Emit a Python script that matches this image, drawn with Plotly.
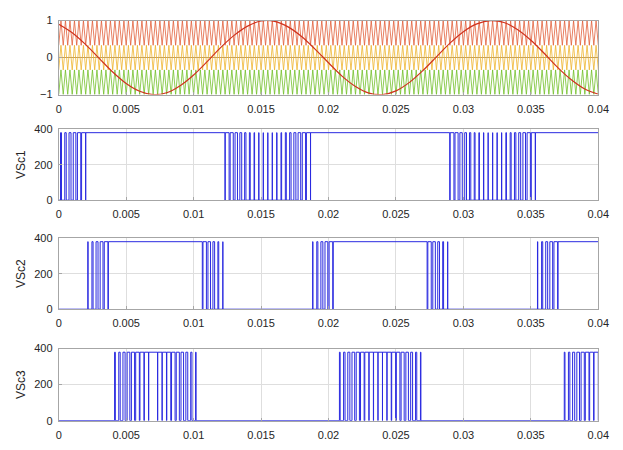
import numpy as np
import plotly.graph_objects as go
from plotly.subplots import make_subplots

# ---------------- data ----------------
# sinusoidal reference (modulating wave), sampled every 1 ms
ref_time_ms = list(range(0, 41))
ref_values = [0.90, 0.67, 0.35, -0.02, -0.39, -0.70, -0.91, -1.00, -0.95, -0.76,
              -0.47, -0.11, 0.27, 0.60, 0.85, 0.99, 0.98, 0.83, 0.57, 0.23,
              -0.14, -0.50, -0.78, -0.96, -1.00, -0.90, -0.67, -0.35, 0.02, 0.39,
              0.70, 0.91, 1.00, 0.95, 0.76, 0.47, 0.11, -0.27, -0.60, -0.85, -0.99]

# level-shifted triangular carriers
carrier_freq_hz = 3000
carrier_low = [0.333, -0.333, -1.0]
carrier_high = [1.0, 0.333, -0.333]
carrier_colors = ["#e2603a", "#efb52e", "#72c02a"]

# DC level of the switched cell voltages
dc_level = 380
cell_names = ["VSc1", "VSc2", "VSc3"]

x_ticks = [0, 0.005, 0.01, 0.015, 0.02, 0.025, 0.03, 0.035, 0.04]
t_end = 0.04

# ---------------- build signals ----------------
ref_t = np.array(ref_time_ms) / 1000.0
ref_v = np.array(ref_values)

half = 1.0 / (2 * carrier_freq_hz)
n_half = int(round(t_end / half))
car_t = np.arange(n_half + 1) * half
carriers = []
for lo, hi in zip(carrier_low, carrier_high):
    v = np.where(np.arange(n_half + 1) % 2 == 0, lo, hi)
    carriers.append(v)

t_fine = np.linspace(0, t_end, 80001)
ref_fine = np.interp(t_fine, ref_t, ref_v)
cells = []
for v in carriers:
    c = np.interp(t_fine, car_t, v)
    s = np.where(ref_fine < c, dc_level, 0)
    idx = np.flatnonzero(np.diff(s)) + 1
    keep = np.concatenate([[0], idx, [len(s) - 1]])
    cells.append((t_fine[keep], s[keep]))

# ---------------- figure ----------------
fig = make_subplots(rows=4, cols=1)

for v, col in zip(carriers, carrier_colors):
    fig.add_trace(go.Scatter(x=car_t, y=v, mode="lines",
                             line=dict(color=col, width=0.8),
                             showlegend=False, hoverinfo="skip"), row=1, col=1)
fig.add_trace(go.Scatter(x=ref_t, y=ref_v, mode="lines", line_shape="spline",
                         line=dict(color="#d0321e", width=1.2),
                         showlegend=False), row=1, col=1)

for i, (tx, sy) in enumerate(cells):
    fig.add_trace(go.Scatter(x=tx, y=sy, mode="lines", line_shape="hv",
                             line=dict(color="#2a2ae0", width=1),
                             showlegend=False), row=i + 2, col=1)

W, H = 623, 450
xl, xr = 57, 609
rows_px = [(15, 91), (126.5, 199.5), (238.5, 311.5), (352, 426)]

font = dict(family="Liberation Sans, Arial, sans-serif", size=11, color="#262626")
fig.update_layout(width=W, height=H, margin=dict(l=0, r=0, t=0, b=0),
                  paper_bgcolor="white", plot_bgcolor="white", font=font)

for i, (top, bot) in enumerate(rows_px):
    xa = "xaxis" if i == 0 else f"xaxis{i+1}"
    ya = "yaxis" if i == 0 else f"yaxis{i+1}"
    fig.layout[xa].update(domain=[xl / W, xr / W], range=[0, t_end],
                          tickvals=x_ticks,
                          ticktext=[f"{v:g}" for v in x_ticks],
                          showgrid=True, gridcolor="#dedede", gridwidth=1,
                          showline=True, linecolor="#a6a6a6", linewidth=1, mirror=True,
                          ticks="inside", ticklen=3, tickcolor="#a6a6a6",
                          ticklabelstandoff=4,
                          zeroline=False, tickfont=font)
    fig.layout[ya].update(domain=[1 - bot / H, 1 - top / H],
                          showgrid=True, gridcolor="#dedede", gridwidth=1,
                          showline=True, linecolor="#a6a6a6", linewidth=1, mirror=True,
                          ticks="inside", ticklen=3, tickcolor="#a6a6a6",
                          ticklabelstandoff=3,
                          tickfont=font)
    if i == 0:
        fig.layout[ya].update(range=[-1, 1], tickvals=[-1, 0, 1],
                              zeroline=True, zerolinecolor="#b89a6a", zerolinewidth=1,
                              layer="above traces", gridcolor="rgba(235,235,235,0.6)")
        fig.layout[xa].update(layer="above traces", gridcolor="rgba(235,235,235,0.6)")
    else:
        fig.layout[ya].update(range=[0, 400], tickvals=[0, 200, 400], zeroline=False,
                              title=dict(text=cell_names[i - 1], standoff=5,
                                         font=dict(family="Liberation Sans, Arial, sans-serif",
                                                   size=12, color="#262626")))

fig.write_html("out.html", config={"displayModeBar": False},
               post_script="document.body.style.margin='0';document.body.style.overflow='hidden';")
